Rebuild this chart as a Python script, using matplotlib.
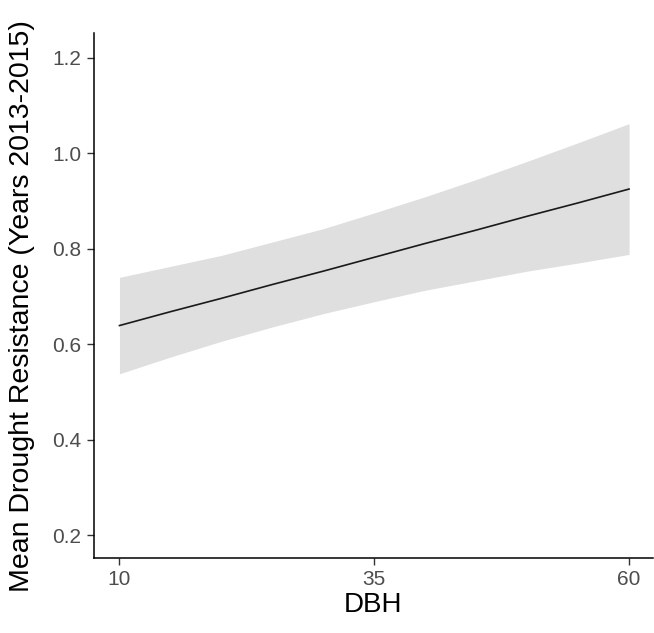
import matplotlib
matplotlib.use('Agg')
import matplotlib.pyplot as plt

plt.rcParams['font.family'] = ['Liberation Sans', 'DejaVu Sans']

# Predicted mean drought resistance vs DBH, with confidence band
dbh = [10, 15, 20, 25, 30, 35, 40, 45, 50, 55, 60]
fit = [0.639, 0.668, 0.696, 0.725, 0.753, 0.782, 0.811, 0.839, 0.868, 0.896, 0.925]
lower = [0.538, 0.573, 0.606, 0.636, 0.664, 0.689, 0.713, 0.733, 0.753, 0.770, 0.788]
upper = [0.740, 0.763, 0.786, 0.814, 0.842, 0.875, 0.909, 0.945, 0.983, 1.022, 1.062]

x_ticks = [10, 35, 60]
y_ticks = [0.2, 0.4, 0.6, 0.8, 1.0, 1.2]

fig = plt.figure(figsize=(6.54, 6.33), dpi=100)
ax = fig.add_axes([0.1437, 0.1185, 0.8548, 0.8294])

ax.fill_between(dbh, lower, upper, color='#DFDFDF', linewidth=0)
ax.plot(dbh, fit, color='#1a1a1a', linewidth=1.2)

ax.set_xlim(7.5, 62.35)
ax.set_ylim(0.152, 1.252)
ax.set_xticks(x_ticks)
ax.set_yticks(y_ticks)
ax.set_yticklabels([f'{v:.1f}' for v in y_ticks])

for side in ['top', 'right']:
    ax.spines[side].set_visible(False)
for side in ['left', 'bottom']:
    ax.spines[side].set_linewidth(1.1)
    ax.spines[side].set_color('black')

ax.tick_params(axis='both', length=5, width=1.0, color='#333333',
               labelsize=15, labelcolor='#4D4D4D', pad=4)

ax.set_xlabel('DBH', fontsize=20, labelpad=2)
ax.set_ylabel('Mean Drought Resistance (Years 2013-2015)', fontsize=20.5)
ax.yaxis.set_label_coords(-0.105, 0.48)

fig.savefig('out.png', dpi=100)
